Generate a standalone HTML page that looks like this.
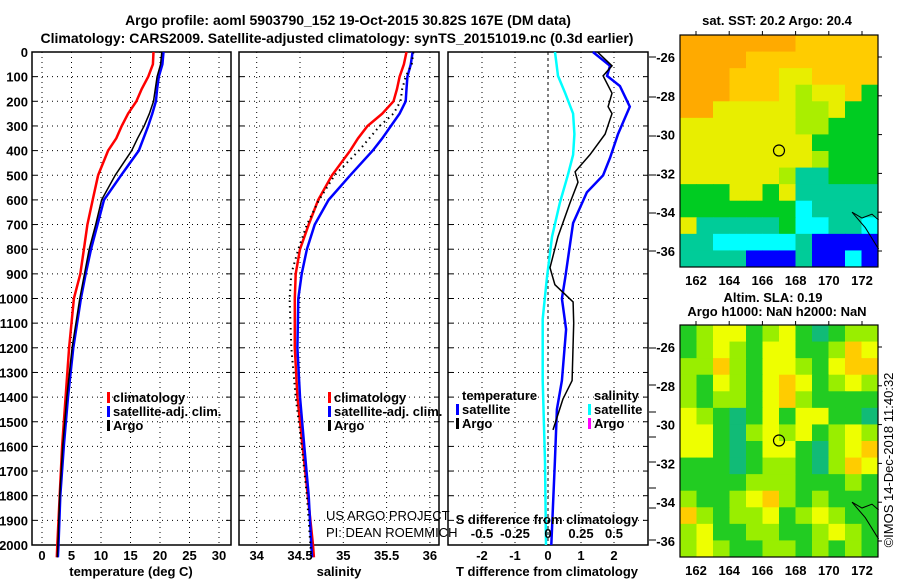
<!DOCTYPE html>
<html><head><meta charset="utf-8"><style>
html,body{margin:0;padding:0;background:#fff;}
svg{display:block;font-family:"Liberation Sans",sans-serif;}
.b{font-weight:bold;font-size:13px;}
</style></head><body>
<svg id="chart" width="900" height="580" viewBox="0 0 900 580" xmlns="http://www.w3.org/2000/svg">
<rect width="900" height="580" fill="#fff"/>
<text x="348" y="25" text-anchor="middle" class="b" style="font-size:14px">Argo profile: aoml 5903790_152 19-Oct-2015 30.82S 167E (DM data)</text>
<text x="337" y="43" text-anchor="middle" class="b" style="font-size:14px">Climatology: CARS2009. Satellite-adjusted climatology: synTS_20151019.nc (0.3d earlier)</text>
<g id="g"></g>
</svg>
<script>
// ---- data ----
const depths = [0,50,100,150,200,250,300,350,400,500,600,700,800,900,1000,1200,1400,1600,1800,2000,2050];
const tempClim = [18.9,18.8,18.0,16.9,16.0,14.6,13.5,12.6,11.2,9.5,8.6,7.7,7.1,6.5,5.4,4.6,4.0,3.4,3.0,2.6,2.5];
const tempSat  = [20.6,20.4,19.8,19.5,19.3,18.7,18.0,17.2,16.4,13.4,10.5,9.4,8.3,7.4,6.6,5.3,4.4,3.7,3.1,2.8,2.7];
const tempArgo = [20.3,20.1,19.5,19.2,18.9,18.2,17.3,16.2,15.2,12.4,10.1,9.1,8.0,7.2,6.4,5.1,4.2,3.5,3.0,2.7,2.6];
const salClim = [35.73,35.70,35.65,35.62,35.58,35.45,35.28,35.17,35.08,34.87,34.71,34.60,34.50,34.45,34.44,34.44,34.47,34.53,34.59,34.65,34.66];
const salSat  = [35.80,35.78,35.74,35.73,35.72,35.65,35.55,35.45,35.34,35.08,34.83,34.67,34.58,34.52,34.48,34.47,34.50,34.55,34.60,34.63,34.64];
const salArgo = [35.81,35.79,35.72,35.68,35.66,35.58,35.42,35.30,35.18,34.90,34.72,34.58,34.48,34.40,34.38,34.40,34.45,34.52,34.58,34.62,34.63];
const diffDepths = [0,56,97,138,222,333,430,500,569,694,778,917,1000,1125,1333,1450,1660,2000];
const tDiffSat = [1.36,1.88,1.79,2.18,2.48,2.12,1.88,1.67,1.18,0.76,0.67,0.52,0.42,0.55,0.42,0.27,0.21,0.10];
const argoDiffDepths = [0,56,97,167,222,250,333,417,486,528,611,750,875,944,1014,1100,1333,1408,1533];
const tDiffArgo = [1.5,1.94,1.67,1.94,1.82,1.94,1.73,1.27,0.82,0.91,0.67,0.30,0.06,0.21,0.76,0.78,0.73,0.45,0.15];
const salDiffDepths = [0,97,167,250,333,417,500,611,750,917,1083,1333,1660,2000];
const sDiffSat = [0.053,0.076,0.13,0.19,0.20,0.19,0.15,0.09,0.03,-0.008,-0.04,-0.04,-0.023,-0.015];
const depthTicks = [0,100,200,300,400,500,600,700,800,900,1000,1100,1200,1300,1400,1500,1600,1700,1800,1900,2000];
const tempTicks = [0,5,10,15,20,25,30];
const salTicks = [34,34.5,35,35.5,36];
const tDiffTicks = [-2,-1,0,1,2];
const sDiffTickLabels = ["-0.5","-0.25","0","0.25","0.5"];
const lonTicks = [162,164,166,168,170,172];
const latTicks = [-26,-28,-30,-32,-34,-36];
const sstGrid = ["OOOOOOOPPPPP","OOOOPPPPPPPP","OOOPPPYYPPPP","OOOPPPYLYYPG","OOYYYYYLLYGG","YYYYYYYLLGGG","YYYYYYYYGGGG","YYYYYYYYLGGG","YYYYYYLTTGGG","GGGYYGYTTTTT","GGGGGGGCTTTT","YTTTTTGCCTTC","TTCCCCCTBBBB","TTTTBBBTBBCB"];
const slaGrid = ["GLYYGLYGTGLL","GLYLGYYGGLOY","LLOLGYYLGYOO","LGYLGYOYGLYL","LGLLGYOLGGGG","YLGTGYGYYGGT","YYGTLYLYGLYL","YYGTGYYGTLYO","GGGTGLLGTLOY","GGGGLLLGGGLG","LGGLYOLGLGGG","OLGLLYGLYLGG","LYGGLLGGLYLG","LYLGGLLGLGLG"];
const argoLon = 167.0, argoLat = -30.82;

// ---- helpers ----
const NS="http://www.w3.org/2000/svg";
const G=document.getElementById('g');
function el(tag,attrs,parent){const e=document.createElementNS(NS,tag);for(const k in attrs)e.setAttribute(k,attrs[k]);(parent||G).appendChild(e);return e;}
function txt(x,y,s,attrs){const e=el('text',Object.assign({x:x,y:y},attrs||{}));e.textContent=s;return e;}
const TOP=52, BOT=545;
const yD=d=>TOP+d*0.2465;
const xT=t=>42+t*5.9;
const xS=s=>300+(s-34.5)*86.6;
const xTD=t=>548+t*33;
const xSD=s=>548+s*132;

function panel(name,x0,x1,xticks){
  const g=el('g',{});
  
  
  depthTicks.forEach(d=>{ if(d>0) el('line',{x1:x0,x2:x1,y1:yD(d),y2:yD(d),stroke:'#000','stroke-dasharray':'1,4','stroke-width':1},g);
    el('line',{x1:x0,x2:x0+5,y1:yD(d),y2:yD(d),stroke:'#000'},g);
    el('line',{x1:x1-5,x2:x1,y1:yD(d),y2:yD(d),stroke:'#000'},g);});
  xticks.forEach(x=>{el('line',{x1:x,x2:x,y1:TOP,y2:BOT,stroke:'#000','stroke-dasharray':'1,4'},g);});
  el('rect',{x:x0,y:TOP,width:x1-x0,height:BOT-TOP,fill:'none',stroke:'#000','stroke-width':1.5},g);
  return g;
}
function line(g,xs,ds,fx,color,w,name){
  const pts=xs.map((v,i)=>fx(v).toFixed(1)+','+yD(ds[i]).toFixed(1)).join(' ');
  const p=el('polyline',{points:pts,fill:'none',stroke:color,'stroke-width':w},g);
  
  
  return p;
}

// Panel 1 temperature
const p1=panel('temperature-panel',32,231,tempTicks.map(xT));
line(p1,tempClim,depths,xT,'#f00',2.5,'temp-climatology-line');
line(p1,tempSat,depths,xT,'#00f',2.5,'temp-satellite-line');
line(p1,tempArgo,depths,xT,'#000',1.5,'temp-argo-line');
depthTicks.forEach(d=>{const t=txt(28,yD(d)+5,String(d),{'text-anchor':'end',class:'b'});

});
tempTicks.forEach(v=>{const t=txt(xT(v),560,String(v),{'text-anchor':'middle',class:'b'});

});
txt(131,576,'temperature (deg C)',{'text-anchor':'middle',class:'b',});

function legend(x,y,items){
  const lg=el('g',{});
  
  
  items.forEach((it,i)=>{
    if(it[0]) el('rect',{x:x,y:y+i*14-10,width:3,height:11,fill:it[0]},lg);
    const t=txt(x+6,y+i*14,it[1],{class:'b'});lg.appendChild(t);
    
    
  });
}
legend(107,402,[['#f00','climatology'],['#00f','satellite-adj. clim.'],['#000','Argo']]);

// Panel 2 salinity
const p2=panel('salinity-panel',239,439,salTicks.map(xS));
line(p2,salClim,depths,xS,'#f00',2.5,'sal-climatology-line');
line(p2,salSat,depths,xS,'#00f',2.5,'sal-satellite-line');
const pa=line(p2,salArgo,depths,xS,'#000',2,'sal-argo-dotted-line');pa.setAttribute('stroke-dasharray','1.5,4');
salTicks.forEach(v=>{const t=txt(xS(v),560,String(v),{'text-anchor':'middle',class:'b'});

});
txt(339,576,'salinity',{'text-anchor':'middle',class:'b',});
legend(328,402,[['#f00','climatology'],['#00f','satellite-adj. clim.'],['#000','Argo']]);
txt(326,520,'US ARGO PROJECT',{'font-size':'13px',});
txt(326,537,'PI: DEAN ROEMMICH',{'font-size':'13px',});

// Panel 3 differences
const p3=panel('difference-panel',448,648,[482,515,581,614]);
el('line',{x1:548,x2:548,y1:TOP,y2:BOT,stroke:'#000','stroke-dasharray':'3,3'},p3);
line(p3,sDiffSat,salDiffDepths,xSD,'#0ff',2.5,'sal-diff-satellite-line');
line(p3,tDiffSat,diffDepths,xTD,'#00f',2.5,'temp-diff-satellite-line');
line(p3,tDiffArgo,argoDiffDepths,xTD,'#000',1.5,'temp-diff-argo-line');
[57,97,136,175,213,251,348,385,412,437,462,488,508,540].forEach(y=>el('line',{x1:649,x2:656,y1:y,y2:y,stroke:'#000'}));
tDiffTicks.forEach(v=>{const t=txt(xTD(v),560,String(v),{'text-anchor':'middle',class:'b'});

});
sDiffTickLabels.forEach(s=>{const t=txt(xSD(parseFloat(s)),538,s,{'text-anchor':'middle',class:'b'});

});
txt(547,524,'S difference from climatology',{'text-anchor':'middle',class:'b',});
txt(547,576,'T difference from climatology',{'text-anchor':'middle',class:'b',});
legend(456,400,[[null,'temperature'],['#00f','satellite'],['#000','Argo']]);
legend(588,400,[[null,'salinity'],['#0ff','satellite'],['#f0f','Argo']]);

// Maps
const sstColors={O:'#ffaa00',P:'#ffcc00',Y:'#e8ee00',L:'#aaee00',G:'#00cc22',T:'#00cc99',C:'#00ffff',B:'#0000ff'};
const slaColors={G:'#22cc22',L:'#99ee00',Y:'#eeff00',O:'#ffcc00',T:'#11bb77'};
function map(name,x0,y0,x1,y1,grid,colors){
  const mg=el('g',{});
  
  
  const cw=(x1-x0)/grid[0].length, ch=(y1-y0)/grid.length;
  grid.forEach((row,r)=>{[...row].forEach((c,k)=>{el('rect',{x:x0+k*cw,y:y0+r*ch,width:cw+0.5,height:ch+0.5,fill:colors[c]},mg);});});
  const xL=lon=>696+(lon-162)*16.6;
  const yL=lat=>(y0+22)+(-26-lat)*((y1-y0-38)/10);
  el('polyline',{points:`${xL(171.4)},${yL(-34)} ${xL(172)},${yL(-34.3)} ${xL(172.6)},${yL(-34.1)} ${xL(173)},${yL(-34.4)}`,fill:'none',stroke:'#000'},mg);
  el('polyline',{points:`${xL(171.4)},${yL(-34)} ${xL(172.2)},${yL(-34.8)} ${xL(173)},${yL(-35.9)}`,fill:'none',stroke:'#000'},mg);
  const c=el('circle',{cx:xL(argoLon),cy:yL(argoLat),r:5.5,fill:'none',stroke:'#000','stroke-width':1.2},mg);
  
  
  el('rect',{x:x0,y:y0,width:x1-x0,height:y1-y0,fill:'none',stroke:'#000','stroke-width':1.2},mg);
  lonTicks.forEach(l=>{el('line',{x1:xL(l),x2:xL(l),y1:y0-4,y2:y0,stroke:'#000'},mg);
    const t=txt(xL(l),y1+18,String(l),{'text-anchor':'middle',class:'b'});
    
    });
  latTicks.forEach(l=>{el('line',{x1:x1,x2:x1+4,y1:yL(l),y2:yL(l),stroke:'#000'},mg);
    const t=txt(x0-5,yL(l)+5,String(l),{'text-anchor':'end',class:'b'});
    
    });
}
map('sst-map',680,35,878,267,sstGrid,sstColors);
map('sla-map',680,325,878,557,slaGrid,slaColors);
txt(777,25,'sat. SST: 20.2 Argo: 20.4',{'text-anchor':'middle',class:'b',});
txt(773,302,'Altim. SLA: 0.19',{'text-anchor':'middle',class:'b',});
txt(777,316,'Argo h1000: NaN h2000: NaN',{'text-anchor':'middle',class:'b',});
txt(0,0,'©IMOS 14-Dec-2018 11:40:32',{'text-anchor':'middle','font-size':'13px',transform:'translate(893,460) rotate(-90)',});
</script>
</body></html>
